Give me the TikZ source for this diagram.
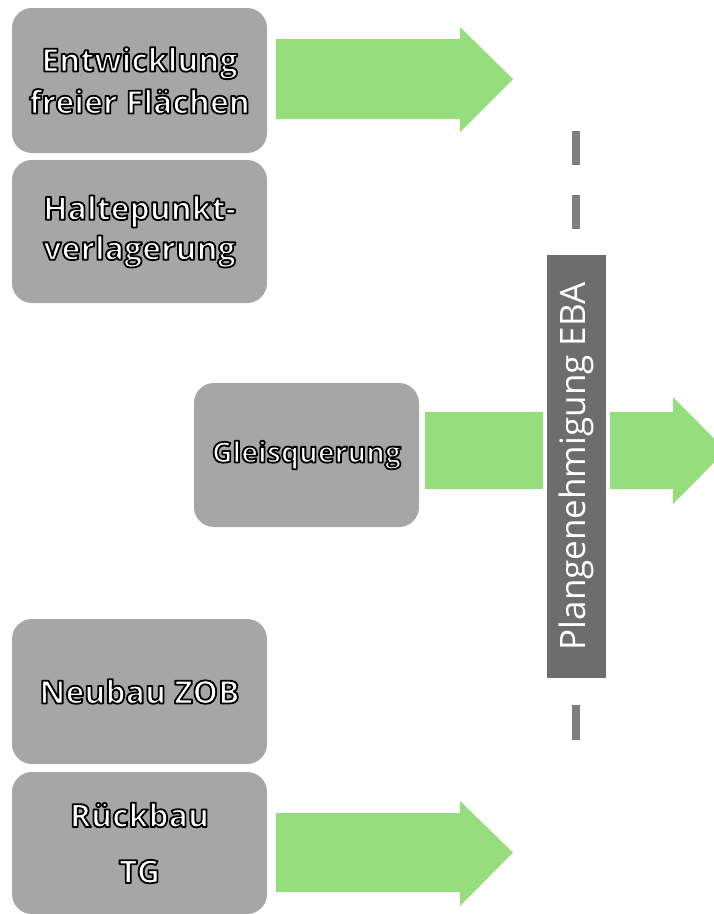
\documentclass[tikz,border=0pt]{standalone}
\usepackage{fontspec}
\setmainfont{Open Sans}
\definecolor{boxgray}{RGB}{166,166,166}
\definecolor{bargray}{RGB}{109,109,109}
\definecolor{dashgray}{RGB}{127,127,127}
\definecolor{arrowgreen}{RGB}{150,221,125}
% white letters with a black outline (text render mode 2: fill and stroke)
\newcommand{\olt}[1]{\textcolor{white}{\special{pdf:literal direct 0 G 1.8 w 1 j 2 Tr}#1\special{pdf:literal direct 0 Tr}}}
\tikzset{
  box/.style={fill=boxgray, rounded corners=20pt, inner sep=0pt, align=center,
    font=\bfseries\fontsize{32}{42}\selectfont},
  bararrow/.style={fill=arrowgreen},
  ebabar/.style={fill=bargray, draw=white, line width=4pt, inner sep=0pt,
    text=white, font=\fontsize{35}{40}\selectfont},
  dashseg/.style={fill=dashgray}
}
\begin{document}
\begin{tikzpicture}[x=1pt,y=-1pt]
\useasboundingbox (0,0) rectangle (714,914);
% boxes
\node[box, minimum width=255pt, minimum height=145pt] (b1) at (139.5,80.5)
  {\olt{Entwicklung}\\\olt{freier Flächen}};
\node[box, minimum width=255pt, minimum height=143pt, font=\bfseries\fontsize{32}{40}\selectfont] (b2) at (139.5,231.5)
  {\olt{Haltepunkt-}\\\olt{verlagerung}};
\node[box, minimum width=225pt, minimum height=144pt, font=\bfseries\fontsize{28.5}{34}\selectfont] (b3) at (306.5,455)
  {\olt{Gleisquerung}};
\node[box, minimum width=255pt, minimum height=145pt] (b4) at (139.5,691.5)
  {\olt{Neubau ZOB}};
\node[box, minimum width=255pt, minimum height=142pt, font=\bfseries\fontsize{32}{56}\selectfont] (b5) at (139.5,843)
  {\olt{Rückbau}\\\olt{TG}};
% arrows
\fill[bararrow] (276,39) -- (460,39) -- (460,27) -- (513,79) -- (460,132) -- (460,119) -- (276,119) -- cycle;
\fill[bararrow] (276,813) -- (460,813) -- (460,801) -- (513,852.5) -- (460,906) -- (460,892) -- (276,892) -- cycle;
\begin{scope}
\clip (0,0) rectangle (714,914);
\fill[bararrow] (425,412) -- (673,412) -- (673,397) -- (726,450.5) -- (673,504) -- (673,489) -- (425,489) -- cycle;
\end{scope}
% dashes
\fill[dashseg] (572,131) rectangle (580,165);
\fill[dashseg] (572,195) rectangle (580,229);
\fill[dashseg] (572,705) rectangle (580,740);
% bar
\node[ebabar, rotate=90, minimum width=427pt, minimum height=63pt] (eba) at (576.5,466.5)
  {Plangenehmigung EBA};
\end{tikzpicture}
\end{document}
